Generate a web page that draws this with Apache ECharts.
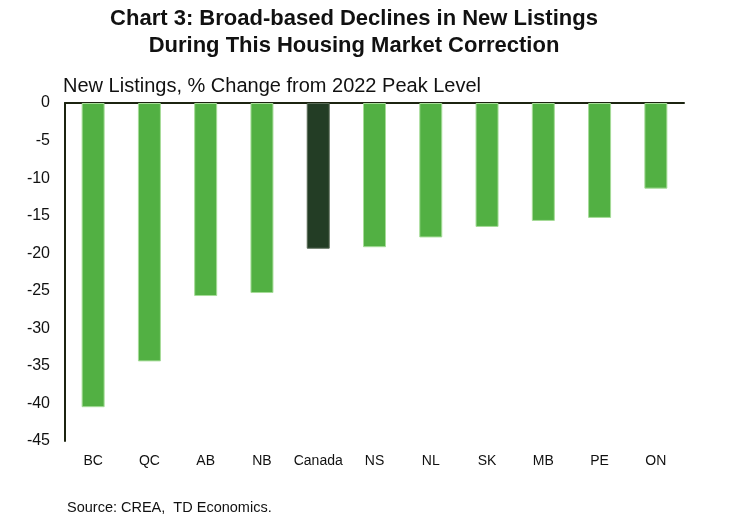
<!DOCTYPE html>
<html>
<head>
<meta charset="utf-8">
<script src="https://cdn.jsdelivr.net/npm/echarts@6/dist/echarts.min.js"></script>
<style>html,body{margin:0;padding:0;background:#fff}#c{width:736px;height:526px}</style>
</head>
<body>
<div id="c"></div>
<script>
const categories = ['BC','QC','AB','NB','Canada','NS','NL','SK','MB','PE','ON'];
const values = [-40.5,-34.4,-25.7,-25.3,-19.4,-19.2,-17.9,-16.5,-15.7,-15.3,-11.4];
const yTicks = {min:-45, max:0, interval:5};
const highlight = 'Canada';

const chart = echarts.init(document.getElementById('c'));
const font = '"Liberation Sans", Arial, sans-serif';
chart.setOption({
  animation:false,
  title:[
    {text:'Chart 3: Broad-based Declines in New Listings\nDuring This Housing Market Correction',
     left:349, top:0, textAlign:'center',
     textStyle:{fontFamily:font,fontSize:22,fontWeight:'bold',color:'#111',lineHeight:27}},
    {text:'New Listings, % Change from 2022 Peak Level', left:58, top:71,
     textStyle:{fontFamily:font,fontSize:20,fontWeight:'normal',color:'#111'}},
    {text:'Source: CREA,  TD Economics.', left:62, top:495,
     textStyle:{fontFamily:font,fontSize:14.5,fontWeight:'normal',color:'#111'}}
  ],
  grid:{left:65,right:52,top:103,bottom:85,containLabel:false},
  xAxis:[
    {type:'category',data:categories,position:'bottom',
     axisLine:{show:false},axisTick:{show:false},
     axisLabel:{interval:0,fontFamily:font,fontSize:14,color:'#111',margin:13}},
    {type:'category',data:categories,position:'top',
     axisLine:{show:true,lineStyle:{color:'#1c2410',width:2}},
     axisTick:{show:false},axisLabel:{show:false}}
  ],
  yAxis:{type:'value',min:yTicks.min,max:yTicks.max,interval:yTicks.interval,
    axisLine:{show:true,lineStyle:{color:'#1c2410',width:2}},
    axisTick:{show:false},splitLine:{show:false},
    axisLabel:{fontFamily:font,fontSize:16,color:'#111',margin:15}},
  series:[{type:'bar',data:values.map((v,i)=>categories[i]===highlight?
      {value:v,itemStyle:{color:'#233d25',borderColor:'#5a6b58'}}:v),
    barWidth:23,
    itemStyle:{color:'#52b043',borderColor:'#a6dc98',borderWidth:1}}]
});
</script>
</body>
</html>
